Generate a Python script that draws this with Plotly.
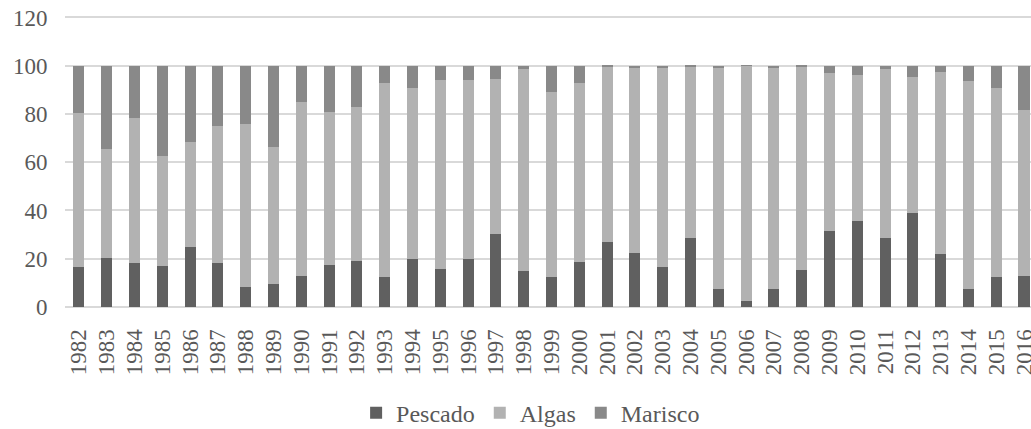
import plotly.graph_objects as go

years = [str(y) for y in range(1982, 2017)]

# percent shares
pescado = [16.7, 20.5, 18.3, 17.1, 25.0, 18.4, 8.4, 9.4, 13.0, 17.4,
           19.1, 12.6, 20.0, 15.9, 20.0, 30.3, 15.1, 12.3, 18.7, 27.1,
           22.4, 16.7, 28.5, 7.6, 2.6, 7.6, 15.2, 31.7, 35.8, 28.5,
           39.1, 21.9, 7.6, 12.6, 13.0]
algas_top = [80.4, 65.6, 78.4, 62.4, 68.5, 75.1, 75.9, 66.5, 85.1, 80.9,
             82.9, 92.9, 90.9, 94.1, 94.2, 94.7, 98.8, 89.2, 92.9, 99.7,
             99.3, 99.3, 99.8, 99.3, 99.9, 99.3, 99.7, 97.1, 96.3, 98.5,
             95.5, 97.2, 93.5, 90.9, 81.6]
algas = [round(t - p, 1) for t, p in zip(algas_top, pescado)]
marisco = [round(100 - t, 1) for t in algas_top]

series = [
    ("Pescado", pescado, "#606060"),
    ("Algas", algas, "#b2b2b2"),
    ("Marisco", marisco, "#898989"),
]

txt = "#595959"
serif = "Liberation Serif"

fig = go.Figure()
for name, vals, col in series:
    fig.add_trace(
        go.Bar(
            x=years,
            y=vals,
            name=name,
            marker=dict(color=col, line=dict(width=0)),
        )
    )

fig.update_layout(
    barmode="stack",
    bargap=0.6,
    width=1031,
    height=429,
    margin=dict(l=64.6, r=0, t=15.55, b=122),
    paper_bgcolor="white",
    plot_bgcolor="white",
    font=dict(family=serif, color=txt, size=23),
    showlegend=True,
    legend=dict(
        orientation="h",
        traceorder="normal",
        x=0.482,
        xanchor="center",
        yref="container",
        y=0.037,
        yanchor="middle",
        font=dict(size=24, color=txt),
        itemclick=False,
    ),
)
fig.update_xaxes(
    type="category",
    range=[-0.5, 34.25],
    tickmode="linear",
    dtick=1,
    tickangle=-90,
    ticks="outside",
    ticklen=12,
    tickcolor="rgba(0,0,0,0)",
    showgrid=False,
    showline=False,
    automargin=False,
    ticklabeloverflow="allow",
    tickfont=dict(size=23, color=txt),
)
fig.update_yaxes(
    range=[0, 120.6],
    tickmode="linear",
    tick0=0,
    dtick=20,
    showgrid=True,
    gridcolor="#d9d9d9",
    gridwidth=1.5,
    zeroline=True,
    zerolinecolor="#d9d9d9",
    zerolinewidth=1.5,
    ticks="outside",
    ticklen=12,
    tickcolor="rgba(0,0,0,0)",
    automargin=False,
    ticklabeloverflow="allow",
    tickfont=dict(size=23, color=txt),
)

# drop the default 8px body margin so the figure fills the window
fig.write_html(
    "out.html",
    config={"displayModeBar": False},
    post_script="document.body.style.margin='0';document.body.style.overflow='hidden';",
)
